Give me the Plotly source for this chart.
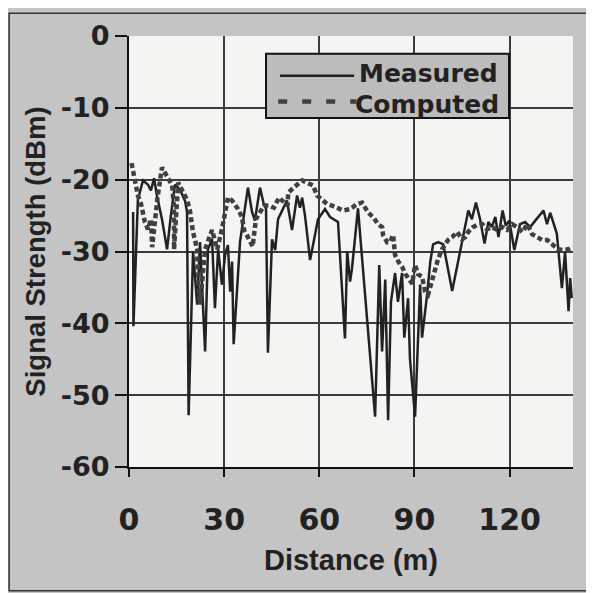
import plotly.graph_objects as go

# Measured signal (distance m, dBm)
meas_x = [1.3, 1.4, 2.8, 4.4, 6.0, 6.9, 7.9, 8.8, 10.4, 12.0, 13.2, 14.5, 16.1, 17.7, 18.3, 18.8,
          20.2, 21.5, 22.4, 24.0, 24.9, 26.2, 27.1, 28.1, 29.3, 30.3, 31.2, 31.9, 32.5, 33.0,
          35.0, 36.0, 37.5, 38.8, 39.7, 41.3, 42.6, 43.2, 43.8, 45.1, 46.1, 47.0, 48.6, 49.8,
          51.4, 53.0, 53.9, 54.6, 55.5, 57.1, 59.6, 61.8, 63.4, 65.9, 68.1, 68.8, 69.7, 70.3,
          72.2, 77.6, 78.9, 79.8, 80.8, 81.7, 82.6, 83.9, 84.8, 86.1, 86.8, 88.0, 88.6, 90.2,
          91.8, 92.4, 94.0, 95.0, 95.9, 97.5, 99.1, 101.9, 107.0, 108.1, 109.4, 110.7, 112.1,
          113.3, 114.4, 115.5, 116.5, 117.8, 118.8, 119.9, 121.5, 123.3, 124.9, 126.5, 128.1,
          130.7, 131.8, 132.8, 134.9, 136.5, 137.5, 138.6, 139.1, 139.6]
meas_y = [-24.5, -40.4, -22.8, -20.1, -20.7, -21.5, -19.8, -22.2, -25.5, -29.7, -25.0, -20.7, -21.4, -23.0, -24.5, -52.8,
          -30.0, -37.4, -28.7, -43.9, -29.7, -28.3, -37.9, -29.7, -34.6, -30.5, -29.1, -35.6, -31.4, -42.9,
          -28.7, -25.9, -21.1, -24.5, -25.7, -21.1, -23.6, -24.0, -44.1, -28.3, -29.8, -25.5, -23.9, -22.9,
          -27.0, -22.2, -23.9, -22.5, -25.0, -31.2, -25.5, -24.1, -25.2, -25.9, -42.1, -30.0, -34.2, -32.4,
          -24.0, -53.0, -31.9, -43.9, -33.9, -53.5, -37.0, -33.0, -37.0, -33.0, -42.0, -36.5, -45.0, -53.0,
          -34.6, -42.0, -36.0, -31.4, -29.0, -28.7, -29.0, -35.5, -24.3, -25.5, -23.2, -25.5, -28.9,
          -25.9, -26.6, -25.2, -28.0, -24.3, -26.4, -25.7, -29.8, -26.2, -25.9, -26.6, -25.7,
          -24.3, -26.2, -24.6, -27.5, -35.1, -30.1, -38.3, -33.7, -36.5]

# Computed signal (distance m, dBm)
comp_x = [0.8, 1.6, 2.8, 3.8, 5.0, 6.0, 6.9, 7.3, 9.0, 10.4, 11.3, 12.3, 13.6, 14.2, 14.3, 14.2,
          14.2, 15.5, 17.0, 18.3, 19.2, 20.2, 21.5, 21.8, 22.4, 24.0, 26.2, 27.8, 29.3, 30.3,
          31.2, 32.5, 34.4, 35.6, 36.3, 37.5, 39.0, 40.0, 41.0, 42.6, 44.2, 45.7, 47.3, 48.9,
          50.0, 50.2, 51.4, 53.0, 54.6, 56.5, 58.0, 59.3, 60.9, 62.5, 64.0, 65.6, 67.5, 69.7,
          71.9, 73.5, 74.4, 75.4, 77.0, 78.5, 79.8, 80.1, 81.4, 82.3, 83.3, 83.9, 84.9, 86.1,
          87.1, 88.0, 89.3, 90.2, 91.2, 92.4, 93.4, 94.3, 96.5, 97.5, 98.7, 99.7, 100.6, 101.9,
          103.5, 105.0, 106.0, 106.9, 108.5, 109.8, 111.4, 112.9, 114.5, 116.1, 117.7, 119.2,
          120.8, 122.4, 124.0, 125.6, 127.1, 128.7, 130.3, 131.9, 133.4, 135.3, 136.9, 138.5, 140.0]
comp_y = [-17.7, -19.6, -22.2, -23.4, -25.9, -26.9, -25.5, -29.4, -22.5, -18.3, -19.0, -19.5, -20.8, -24.0, -26.0, -27.7,
          -29.7, -20.4, -21.8, -22.8, -24.3, -27.3, -29.7, -34.6, -37.4, -29.7, -27.0, -29.7, -26.9, -24.6,
          -22.5, -22.9, -24.1, -25.2, -27.0, -28.0, -29.3, -25.5, -24.8, -23.6, -23.6, -23.9, -22.5, -23.2,
          -23.6, -21.8, -21.4, -20.7, -20.1, -20.4, -20.8, -22.2, -22.8, -23.4, -23.6, -23.9, -24.3, -24.1,
          -23.4, -23.2, -23.9, -24.6, -25.2, -26.2, -26.6, -27.7, -28.7, -28.7, -27.7, -30.5, -31.4, -32.1,
          -33.1, -33.8, -34.5, -31.9, -33.2, -33.5, -35.6, -36.0, -32.4, -31.0, -29.7, -29.1, -28.4, -28.0,
          -27.3, -28.3, -28.0, -27.3, -26.6, -26.3, -26.2, -26.9, -26.6, -27.0, -26.6, -27.0,
          -26.2, -26.6, -27.3, -26.2, -27.6, -28.0, -28.4, -28.4, -29.0, -29.7, -29.8, -29.7, -29.4]

x_ticks = [0, 30, 60, 90, 120]
y_ticks = [0, -10, -20, -30, -40, -50, -60]
series_names = ["Measured", "Computed"]

SANS = "Liberation Sans, Arial, sans-serif"
WIDE = "DejaVu Sans, sans-serif"
INK = "#222222"
MEAS_COLOR = "#222222"
COMP_COLOR = "#404040"

fig = go.Figure()
fig.add_trace(go.Scatter(x=meas_x, y=meas_y, mode="lines", name=series_names[0],
                         line=dict(color=MEAS_COLOR, width=2.5), showlegend=False))
fig.add_trace(go.Scatter(x=comp_x, y=comp_y, mode="lines", name=series_names[1],
                         line=dict(color=COMP_COLOR, width=4.5, dash="5px,3px"), showlegend=False))

fig.update_layout(
    width=586, height=585,
    margin=dict(l=121, r=21, t=24, b=126),
    paper_bgcolor="#c4c4c4",
    plot_bgcolor="#f4f4f2",
    font=dict(family=SANS, color=INK, size=26),
    showlegend=False,
    xaxis=dict(range=[0, 140], tickvals=x_ticks, ticktext=[str(v) for v in x_ticks],
               showgrid=True, gridcolor="#3c3c3c", gridwidth=1.6,
               showline=True, linecolor="#111111", linewidth=2,
               ticks="outside", ticklen=8, tickcolor="#111111", tickwidth=2,
               ticklabelstandoff=17,
               tickfont=dict(size=30, family=WIDE, weight="bold", color=INK),
               title=dict(text="Distance (m)", standoff=14,
                          font=dict(size=29, family=SANS, weight="bold", color=INK)),
               zeroline=False),
    yaxis=dict(range=[-60, 0], tickvals=y_ticks, ticktext=[str(v) for v in y_ticks],
               showgrid=True, gridcolor="#3c3c3c", gridwidth=1.6,
               showline=True, linecolor="#111111", linewidth=2,
               ticks="outside", ticklen=12, tickcolor="#111111", tickwidth=2,
               tickfont=dict(size=27, family=WIDE, weight="bold", color=INK),
               title=dict(text="Signal Strength (dBm)", standoff=7,
                          font=dict(size=27.5, family=SANS, weight="bold", color=INK)),
               zeroline=False),
)

# outer frame
fig.add_shape(type="rect", xref="paper", yref="paper",
              x0=-0.270, x1=1.045, y0=-0.287, y1=1.053,
              line=dict(color="#333333", width=1.5), fillcolor="rgba(0,0,0,0)", layer="below")

# legend box (drawn manually to match the tight layout)
fig.add_shape(type="rect", xref="paper", yref="paper",
              x0=0.3086, x1=0.8559, y0=0.810, y1=0.9586,
              line=dict(color="#111111", width=2), fillcolor="#bcbcbc", layer="above")
fig.add_shape(type="line", xref="paper", yref="paper",
              x0=0.340, x1=0.507, y0=0.908, y1=0.908,
              line=dict(color=MEAS_COLOR, width=2.5), layer="above")
fig.add_shape(type="line", xref="paper", yref="paper",
              x0=0.336, x1=0.512, y0=0.848, y1=0.848,
              line=dict(color=COMP_COLOR, width=4.5, dash="9px,15px"), layer="above")
fig.add_annotation(xref="paper", yref="paper", x=0.836, y=0.9126, xanchor="right", yanchor="middle",
                   text=series_names[0], showarrow=False,
                   font=dict(size=25, family=WIDE, weight="bold", color=INK))
fig.add_annotation(xref="paper", yref="paper", x=0.838, y=0.8414, xanchor="right", yanchor="middle",
                   text=series_names[1], showarrow=False,
                   font=dict(size=25, family=WIDE, weight="bold", color=INK))

fig.write_html("out.html")
